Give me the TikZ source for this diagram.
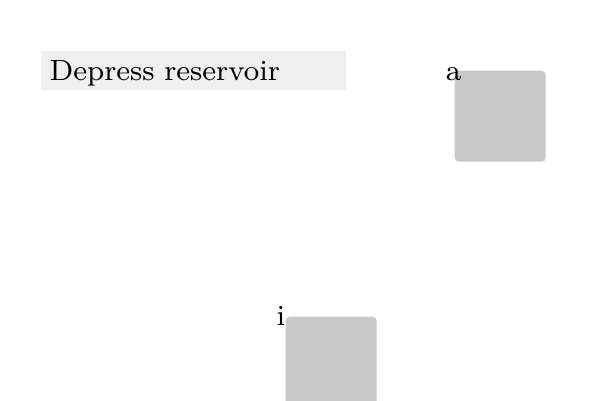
\documentclass[tikz,border=0pt]{standalone}
\usepackage{tikz}
\usetikzlibrary{positioning,calc}
\definecolor{barfill}{HTML}{EFEFEF}
\definecolor{tilefill}{HTML}{C8C8C8}

\begin{document}
\begin{tikzpicture}[font=\fontsize{8.3}{10}\selectfont,
  titlebar/.style={fill=barfill, anchor=north west, inner xsep=0.09cm,
    inner ysep=0pt, text width=2.87cm, align=left,
    text height=8.34pt, text depth=2.76pt},
  tile/.style={fill=tilefill, rounded corners=0.04cm, minimum size=0.91cm,
    inner sep=0pt, anchor=north west},
  tag/.style={anchor=base, inner sep=0pt}]
\useasboundingbox (0,0) rectangle (6,-4);
\node[titlebar] (title) at (0.40,-0.50) {Depress reservoir};
% tiles with their letters
\node[tile] (tilea) at (4.54,-0.70) {};
\node[tag] (taga) at ($(tilea.north west)+(-0.003,-0.10)$) {a};
\node[tile] (tilei) at (2.85,-3.16) {};
\node[tag] (tagi) at ($(tilei.north west)+(-0.04,-0.09)$) {i};
\end{tikzpicture}
\end{document}
